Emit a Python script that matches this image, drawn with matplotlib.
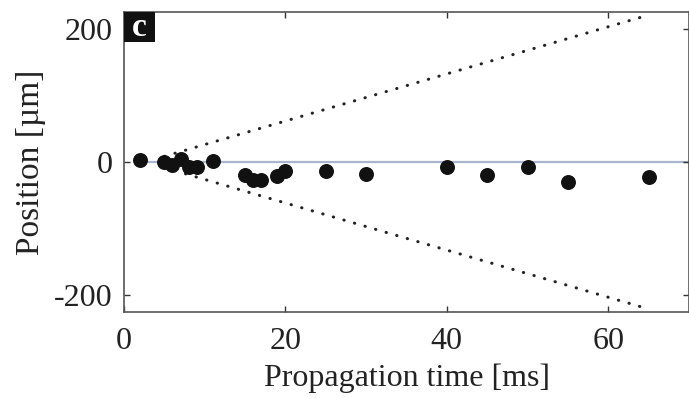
import numpy as np
import matplotlib.pyplot as plt
from matplotlib.patches import Rectangle

t_ms = [2, 5, 6, 7, 8, 9, 11, 15, 16, 17, 19, 20, 25, 30, 40, 45, 50, 55, 65]
pos_um = [3, 0, -5, 4, -7, -7, 2, -20, -27, -27, -21, -13, -13, -18, -7, -20, -8, -30, -23]

# dotted envelope: +/- slope * (t - t0)
env_t = [5, 65]
env_slope = 3.55
env_t0 = 2.6

plt.rcParams['font.family'] = ['Liberation Serif', 'DejaVu Serif']
plt.rcParams['axes.unicode_minus'] = False

fig = plt.figure(figsize=(6.89, 3.98), dpi=100)
ax = fig.add_axes([124/689, 1 - 312/398, 1 - 124/689, 300/398])

ax.axhline(0, xmin=2/70, color='#a9b5cc', lw=1.6, zorder=1)

env_t = np.array(env_t)
env_y = env_slope * (env_t - env_t0)
dots = (0, (0.1, 3.5))
ax.plot(env_t, env_y, color='#222222', lw=2.2, linestyle=dots, dash_capstyle='round', zorder=2)
ax.plot(env_t, -env_y, color='#222222', lw=2.2, linestyle=dots, dash_capstyle='round', zorder=2)

ax.scatter(t_ms, pos_um, s=95, color='#111111', zorder=3)

ax.set_xlim(0, 70)
ax.set_ylim(-226, 226)
ax.set_xticks([0, 20, 40, 60])
ax.set_yticks([-200, 0, 200])
ax.tick_params(direction='in', top=True, right=True, length=4, width=1, labelsize=23,
               colors='#333333', labelcolor='#222222')
ax.tick_params(axis='x', pad=11)
ax.tick_params(axis='y', pad=8)
for s in ax.spines.values():
    s.set_color('#555555')
    s.set_linewidth(1.2)

ax.set_xlabel('Propagation time [ms]', fontsize=23, color='#222222', labelpad=5)
ax.set_ylabel('Position [µm]', fontsize=24, color='#222222', labelpad=6)

# panel letter in black box at top-left corner
ax.add_patch(Rectangle((0, 1 - 30/300), 31/565, 30/300, transform=ax.transAxes,
                       fc='#111111', ec='none', zorder=4, clip_on=False))
ax.text(15.5/565, 1 - 16/300, 'c', transform=ax.transAxes, ha='center', va='center',
        fontsize=24, fontweight='bold', color='white', zorder=5)

fig.savefig('out.png', dpi=100)
